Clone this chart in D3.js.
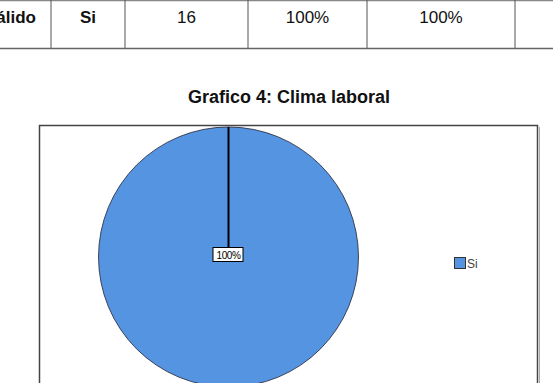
<!DOCTYPE html>
<html>
<head>
<meta charset="utf-8">
<script src="https://cdn.jsdelivr.net/npm/d3@7"></script>
<style>
  body { margin: 0; background: #fff; }
  svg { display: block; font-family: "Liberation Sans", Arial, sans-serif; }
</style>
</head>
<body>
<svg></svg>
<script>
const SVG_WIDTH = 553, SVG_HEIGHT = 383;

// table row shown above the chart (cut at the top of the page)
const tableCells = ["Válido", "Si", "16", "100%", "100%", ""];
const tableBold = [true, true, false, false, false, false];
const tableCols = [-40, 51, 125, 248, 367, 515, 600];

// pie data
const categories = ["Si"];
const counts = [16];
const colors = ["#5594e1"];
const title = "Grafico 4: Clima laboral";

const svg = d3.select("svg")
    .attr("width", SVG_WIDTH)
    .attr("height", SVG_HEIGHT);

// ---- table ----
const table = svg.append("g").attr("id", "table");
table.append("line").attr("x1", 0).attr("x2", SVG_WIDTH).attr("y1", 0.5).attr("y2", 0.5)
    .attr("stroke", "#888").attr("stroke-width", 1.5);
table.append("line").attr("x1", 0).attr("x2", SVG_WIDTH).attr("y1", 48.5).attr("y2", 48.5)
    .attr("stroke", "#666").attr("stroke-width", 1.5);
table.selectAll("line.col").data(tableCols.slice(1, -1)).enter().append("line")
    .attr("class", "col")
    .attr("x1", d => d).attr("x2", d => d)
    .attr("y1", 0).attr("y2", 48.5)
    .attr("stroke", "#555").attr("stroke-width", 1);
table.selectAll("text").data(tableCells).enter().append("text")
    .attr("x", (d, i) => i == 0 ? 36 : (tableCols[i] + tableCols[i + 1]) / 2)
    .attr("y", 23)
    .attr("text-anchor", (d, i) => i == 0 ? "end" : "middle")
    .attr("font-size", 17)
    .attr("font-weight", (d, i) => tableBold[i] ? "bold" : "normal")
    .attr("fill", "#111")
    .text(d => d);

// ---- title ----
svg.append("text")
    .attr("x", 289)
    .attr("y", 103)
    .attr("text-anchor", "middle")
    .attr("font-size", 18)
    .attr("font-weight", "bold")
    .attr("fill", "#111")
    .text(title);

// ---- chart frame ----
svg.append("rect")
    .attr("x", 39.5).attr("y", 125.5)
    .attr("width", 498).attr("height", 300)
    .attr("fill", "#fff")
    .attr("stroke", "#444").attr("stroke-width", 1.5);
svg.append("line")
    .attr("x1", 539.5).attr("x2", 539.5).attr("y1", 127).attr("y2", SVG_HEIGHT)
    .attr("stroke", "#aaa").attr("stroke-width", 1);

// ---- pie ----
const cx = 228.5, cy = 257, r = 130;
const pie = d3.pie().sort(null).value(d => d)(counts);
const arc = d3.arc().innerRadius(0).outerRadius(r);
const total = d3.sum(counts);

const g = svg.append("g").attr("transform", "translate(" + cx + "," + cy + ")");
g.selectAll("path").data(pie).enter().append("path")
    .attr("d", arc)
    .attr("fill", (d, i) => colors[i])
    .attr("stroke", "#223").attr("stroke-width", 0.8);

// slice boundary line from centre to top
g.selectAll("line.edge").data(pie).enter().append("line")
    .attr("class", "edge")
    .attr("x1", 0).attr("y1", 0)
    .attr("x2", d => r * Math.sin(d.startAngle))
    .attr("y2", d => -r * Math.cos(d.startAngle))
    .attr("stroke", "#000").attr("stroke-width", 2);

// labels
const fmt = d => Math.round(d.value / total * 100) + "%";
const lab = g.selectAll("g.lab").data(pie).enter().append("g").attr("class", "lab");
lab.append("rect")
    .attr("x", -15.5).attr("y", -9.5)
    .attr("width", 30).attr("height", 14)
    .attr("fill", "#fff").attr("stroke", "#000").attr("stroke-width", 1);
lab.append("text")
    .attr("x", 0).attr("y", 2)
    .attr("text-anchor", "middle")
    .attr("font-size", 10)
    .attr("letter-spacing", "-0.4")
    .attr("fill", "#000")
    .text(fmt);

// ---- legend ----
const legend = svg.append("g").attr("transform", "translate(454,257)");
const item = legend.selectAll("g").data(categories).enter().append("g")
    .attr("transform", (d, i) => "translate(0," + i * 16 + ")");
item.append("rect")
    .attr("x", 0.5).attr("y", 0.5).attr("width", 11).attr("height", 11)
    .attr("fill", (d, i) => colors[i])
    .attr("stroke", "#333").attr("stroke-width", 1);
item.append("text")
    .attr("x", 13).attr("y", 10.5)
    .attr("font-size", 12)
    .attr("fill", "#444")
    .text(d => d);
</script>
</body>
</html>
